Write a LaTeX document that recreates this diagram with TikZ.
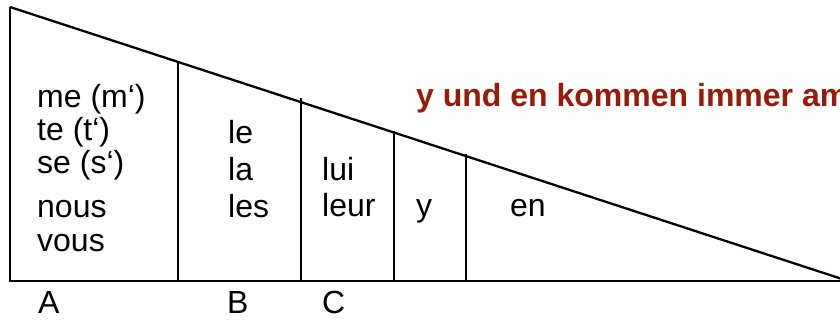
\documentclass[tikz,border=0pt]{standalone}
\usepackage{fontspec}
\setmainfont{Liberation Sans}
\definecolor{darkred}{RGB}{153,26,10}
\begin{document}
\begin{tikzpicture}[x=1pt,y=-1pt,
  outer/.style={line width=2.3pt},
  divider/.style={line width=1.5pt},
  word/.style={anchor=base west,inner sep=0pt,font=\fontsize{32}{36}\selectfont},
  note/.style={anchor=base west,inner sep=0pt,font=\fontsize{32}{37}\selectfont\bfseries,text=darkred}]
\useasboundingbox (0,0) rectangle (840,322);
% triangle
\coordinate (tl) at (10,7);
\coordinate (bl) at (10,281);
\coordinate (br) at (842,281);
\draw[outer,line join=miter] (tl) -- (bl) -- (br);
\draw[outer] (tl) -- (842,279);
% dividers
\draw[divider] (178,63) -- (178,281);
\draw[divider] (301,98) -- (301,281);
\draw[divider] (394,131) -- (394,281);
\draw[divider] (466,154) -- (466,281);
% column A
\node[word] (me) at (37,107) {me (m‘)};
\node[word] (te) at (37,140) {te (t‘)};
\node[word] (se) at (37,173) {se (s‘)};
\node[word] (nous) at (37,217) {nous};
\node[word] (vous) at (37,251) {vous};
% column B
\node[word] (le) at (228,143) {le};
\node[word] (la) at (228,180) {la};
\node[word] (les) at (228,217) {les};
% column C
\node[word] (lui) at (322,180) {lui};
\node[word] (leur) at (322,216) {leur};
% y, en
\node[word] (y) at (416,216) {y};
\node[word] (en) at (510,216) {en};
% labels
\node[word] (A) at (38,313) {A};
\node[word] (B) at (227,313) {B};
\node[word] (C) at (322,313) {C};
% note
\node[note] (rule) at (416,106) {y und en kommen immer am};
\end{tikzpicture}
\end{document}
